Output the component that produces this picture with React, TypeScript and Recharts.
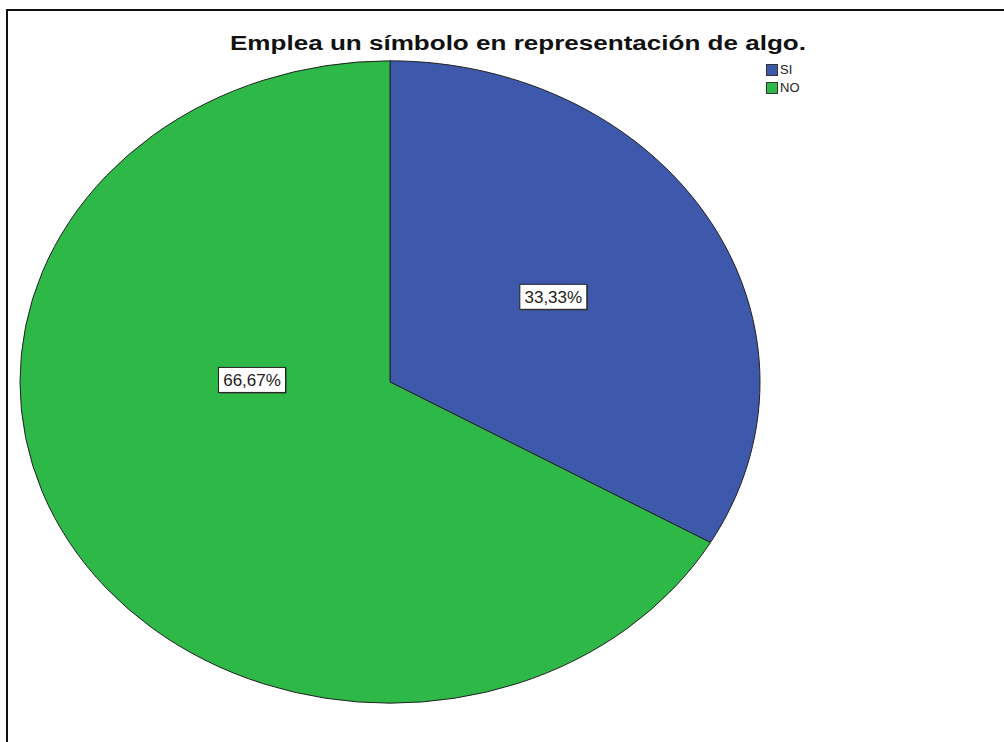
import React from "react";
import { Cell, Legend, Pie, PieChart } from "recharts";

const TITLE = "Emplea un símbolo en representación de algo.";
const CATEGORIES = ["SI", "NO"];
const PERCENTS = [33.33, 66.67];
const COLORS = ["#3e58ac", "#2eb848"];

const data = CATEGORIES.map((name, i) => ({ name, value: PERCENTS[i] }));

const W = 1004;
const H = 742;
const CX = 390;
const CY = 382;
const RX = 370;
const SQUASH = 0.868; // SPSS draws the pie as an ellipse
const FONT = "'Liberation Sans', Arial, sans-serif";

// where SPSS drops each label inside its slice (fraction of radius, angle nudge)
const LABEL_SPOT = [
  { r: 0.515, nudge: 1 },
  { r: 0.373, nudge: -31 },
];

const fmt = (v: number) => v.toFixed(2).replace(".", ",") + "%";

function renderLabel(props: any) {
  const { cx, cy, midAngle, outerRadius, index, value } = props;
  const spot = LABEL_SPOT[index];
  const a = ((midAngle + spot.nudge) * Math.PI) / 180;
  const x = cx + outerRadius * spot.r * Math.cos(a);
  const y = cy - outerRadius * spot.r * Math.sin(a) * SQUASH;
  const w = 67;
  const h = 25;
  return (
    <g key={`lbl-${index}`}>
      <rect x={x - w / 2 + 1} y={y - h / 2 + 1} width={w} height={h} fill="#333" />
      <rect x={x - w / 2} y={y - h / 2} width={w} height={h} fill="#fff" stroke="#222" strokeWidth={1} />
      <text x={x} y={y + 6} textAnchor="middle" fontSize={17} fontFamily={FONT} fill="#222">
        {fmt(value)}
      </text>
    </g>
  );
}

function LegendBox({ payload }: any) {
  const items = [...(payload || [])].sort(
    (a: any, b: any) => CATEGORIES.indexOf(a.value) - CATEGORIES.indexOf(b.value)
  );
  return (
    <div style={{ fontFamily: FONT, fontSize: 13, color: "#222", lineHeight: "18px" }}>
      {items.map((p: any) => (
        <div key={p.value} style={{ display: "flex", alignItems: "center" }}>
          <span
            style={{
              display: "inline-block",
              width: 10,
              height: 10,
              background: p.color,
              border: "1px solid #333",
              marginRight: 2,
            }}
          />
          {p.value}
        </div>
      ))}
    </div>
  );
}

export default function App() {
  return (
    <div style={{ position: "absolute", left: 0, top: 0, width: W, height: H, background: "#fff", overflow: "hidden" }}>
      <style>{`
        .recharts-pie-sector path {
          transform-origin: ${CX}px ${CY}px;
          transform: scale(1, ${SQUASH});
          vector-effect: non-scaling-stroke;
        }
      `}</style>
      <div
        style={{
          position: "absolute",
          left: 6,
          top: 9,
          width: W,
          height: H,
          borderLeft: "2px solid #111",
          borderTop: "2px solid #111",
        }}
      />
      <svg width={W} height={70} style={{ position: "absolute", left: 0, top: 0 }}>
        <text
          x={518}
          y={50}
          textAnchor="middle"
          fontFamily={FONT}
          fontWeight="bold"
          fontSize={20}
          fill="#111"
          textLength={576}
          lengthAdjust="spacingAndGlyphs"
        >
          {TITLE}
        </text>
      </svg>
      <PieChart
        width={W}
        height={H}
        margin={{ top: 0, right: 0, bottom: 0, left: 0 }}
        style={{ position: "absolute", left: 0, top: 0 }}
      >
        <Pie
          data={data}
          dataKey="value"
          nameKey="name"
          cx={CX}
          cy={CY}
          outerRadius={RX}
          startAngle={90}
          endAngle={-270}
          stroke="#222"
          strokeWidth={1}
          label={renderLabel}
          labelLine={false}
          isAnimationActive={false}
        >
          {data.map((_, i) => (
            <Cell key={i} fill={COLORS[i]} />
          ))}
        </Pie>
        <Legend
          content={<LegendBox />}
          layout="vertical"
          wrapperStyle={{ position: "absolute", left: 766, top: 61, width: 60 }}
        />
      </PieChart>
    </div>
  );
}
